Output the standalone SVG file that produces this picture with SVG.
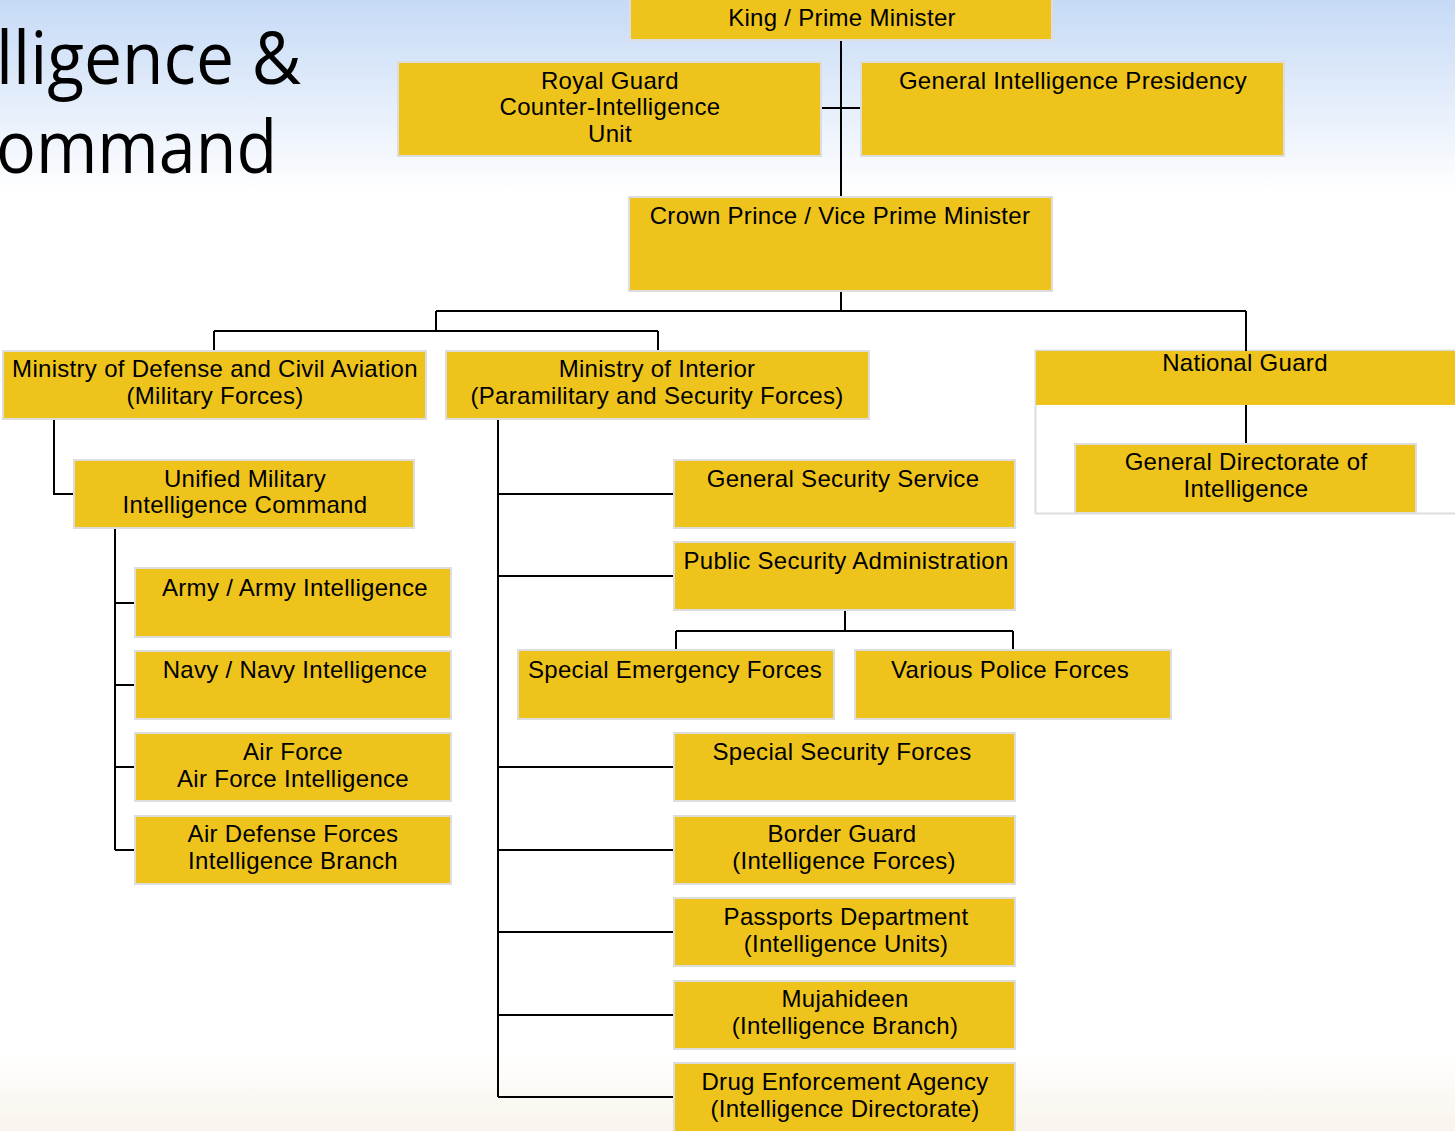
<svg xmlns="http://www.w3.org/2000/svg" width="1455" height="1131" viewBox="0 0 1455 1131">
<defs>
<linearGradient id="bg" x1="0" y1="0" x2="0" y2="1131" gradientUnits="userSpaceOnUse">
<stop offset="0" stop-color="#c6daf6"/>
<stop offset="0.17" stop-color="#ffffff"/>
<stop offset="0.93" stop-color="#ffffff"/>
<stop offset="1" stop-color="#f9f4ec"/>
</linearGradient>
</defs>
<style>
.box{fill:#eec41c;stroke:#dddddd;stroke-width:2}
.t{font-family:"Liberation Sans",Arial,sans-serif;font-size:24px;letter-spacing:0.3px;fill:#000;text-anchor:middle}
.title{font-family:"Open Sans","Noto Sans",sans-serif;font-size:73px;fill:#000}
.c{fill:none;stroke:#000;stroke-width:2}
</style>
<rect x="0" y="0" width="1455" height="1131" fill="url(#bg)"/>
<g id="title">
<text class="title" x="-4" y="84" textLength="305" lengthAdjust="spacingAndGlyphs">lligence &amp;</text>
<text class="title" x="-4" y="173" textLength="281" lengthAdjust="spacingAndGlyphs">ommand</text>
</g>
<g id="ng-frame"><rect x="1035.5" y="350.5" width="440" height="163" fill="#ffffff" stroke="#dddddd" stroke-width="2"/></g>
<g id="connectors">
<path class="c" d="M841 40V197M821 108H861"/>
<path class="c" d="M841 291V311M436 311H1246M436 311V331M214 331H658M214 331V351M658 331V351M1246 311V351"/>
<path class="c" d="M1246 405V444"/>
<path class="c" d="M54 419V494H74"/>
<path class="c" d="M115 528V850M115 603H135M115 685H135M115 767H135M115 850H135"/>
<path class="c" d="M498 419V1097M498 494H674M498 576H674M498 767H674M498 850H674M498 932H674M498 1015H674M498 1097H674"/>
<path class="c" d="M845 610V631M676 631H1013M676 631V650M1013 631V650"/>
</g>
<g id="king"><rect class="box" x="630" y="-2" width="422" height="42"/><text class="t" x="842" y="26">King / Prime Minister</text></g>
<g id="royal-guard"><rect class="box" x="398" y="62" width="423" height="94"/><text class="t" x="610" y="89">Royal Guard</text><text class="t" x="610" y="115">Counter-Intelligence</text><text class="t" x="610" y="142">Unit</text></g>
<g id="gip"><rect class="box" x="861" y="62" width="423" height="94"/><text class="t" x="1073" y="89">General Intelligence Presidency</text></g>
<g id="crown-prince"><rect class="box" x="629" y="197" width="423" height="94"/><text class="t" x="840" y="224">Crown Prince / Vice Prime Minister</text></g>
<g id="mod"><rect class="box" x="3" y="351" width="423" height="68"/><text class="t" x="215" y="377">Ministry of Defense and Civil Aviation</text><text class="t" x="215" y="404">(Military Forces)</text></g>
<g id="moi"><rect class="box" x="446" y="351" width="423" height="68"/><text class="t" x="657" y="377">Ministry of Interior</text><text class="t" x="657" y="404">(Paramilitary and Security Forces)</text></g>
<g id="national-guard"><rect x="1036" y="351" width="425" height="54" fill="#eec41c"/><text class="t" x="1245" y="371">National Guard</text></g>
<g id="gdi"><rect class="box" x="1075" y="444" width="341" height="69"/><text class="t" x="1246" y="470">General Directorate of</text><text class="t" x="1246" y="497">Intelligence</text></g>
<g id="umic"><rect class="box" x="74" y="460" width="340" height="68"/><text class="t" x="245" y="487">Unified Military</text><text class="t" x="245" y="513">Intelligence Command</text></g>
<g id="army"><rect class="box" x="135" y="568" width="316" height="69"/><text class="t" x="295" y="596">Army / Army Intelligence</text></g>
<g id="navy"><rect class="box" x="135" y="651" width="316" height="68"/><text class="t" x="295" y="678">Navy / Navy Intelligence</text></g>
<g id="air-force"><rect class="box" x="135" y="733" width="316" height="68"/><text class="t" x="293" y="760">Air Force</text><text class="t" x="293" y="787">Air Force Intelligence</text></g>
<g id="air-defense"><rect class="box" x="135" y="816" width="316" height="68"/><text class="t" x="293" y="842">Air Defense Forces</text><text class="t" x="293" y="869">Intelligence Branch</text></g>
<g id="gss"><rect class="box" x="674" y="460" width="341" height="68"/><text class="t" x="843" y="487">General Security Service</text></g>
<g id="psa"><rect class="box" x="674" y="542" width="341" height="68"/><text class="t" x="846" y="569">Public Security Administration</text></g>
<g id="sef"><rect class="box" x="518" y="650" width="316" height="69"/><text class="t" x="675" y="678">Special Emergency Forces</text></g>
<g id="vpf"><rect class="box" x="855" y="650" width="316" height="69"/><text class="t" x="1010" y="678">Various Police Forces</text></g>
<g id="ssf"><rect class="box" x="674" y="733" width="341" height="68"/><text class="t" x="842" y="760">Special Security Forces</text></g>
<g id="border-guard"><rect class="box" x="674" y="816" width="341" height="68"/><text class="t" x="842" y="842">Border Guard</text><text class="t" x="844" y="869">(Intelligence Forces)</text></g>
<g id="passports"><rect class="box" x="674" y="898" width="341" height="68"/><text class="t" x="846" y="925">Passports Department</text><text class="t" x="846" y="952">(Intelligence Units)</text></g>
<g id="mujahideen"><rect class="box" x="674" y="981" width="341" height="68"/><text class="t" x="845" y="1007">Mujahideen</text><text class="t" x="845" y="1034">(Intelligence Branch)</text></g>
<g id="drug"><rect class="box" x="674" y="1063" width="341" height="70"/><text class="t" x="845" y="1090">Drug Enforcement Agency</text><text class="t" x="845" y="1117">(Intelligence Directorate)</text></g>
</svg>
